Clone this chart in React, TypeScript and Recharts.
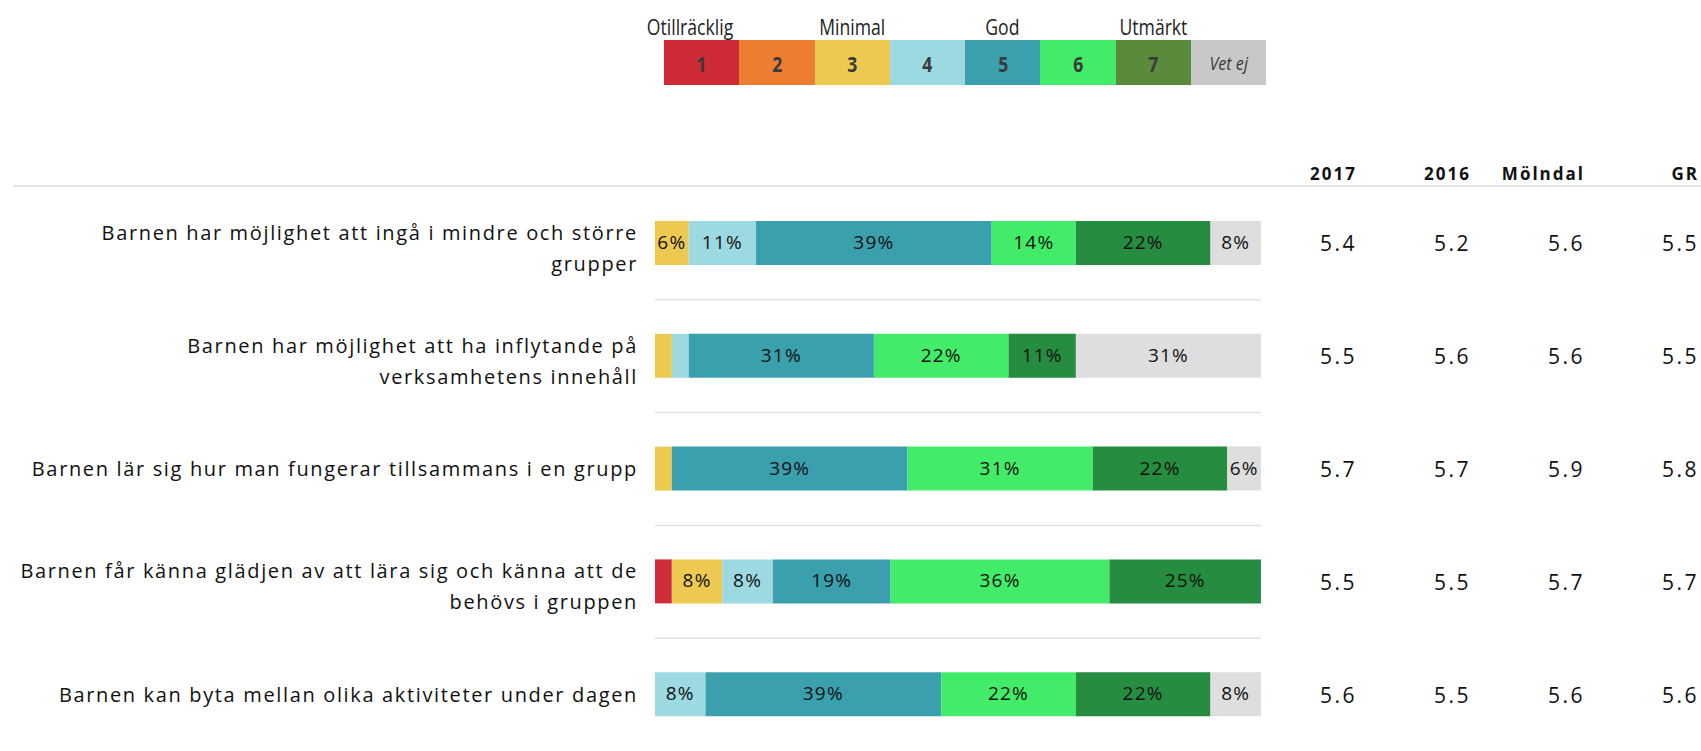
import React from 'react';
import { BarChart, Bar, XAxis, YAxis, CartesianGrid, LabelList } from 'recharts';

const categories = [
  'Barnen har möjlighet att ingå i mindre och större\ngrupper',
  'Barnen har möjlighet att ha inflytande på\nverksamhetens innehåll',
  'Barnen lär sig hur man fungerar tillsammans i en grupp',
  'Barnen får känna glädjen av att lära sig och känna att de\nbehövs i gruppen',
  'Barnen kan byta mellan olika aktiviteter under dagen',
];

// share of answers (%) per grade
const score1 = [0, 0, 0, 2.78, 0];
const score2 = [0, 0, 0, 0, 0];
const score3 = [5.56, 2.78, 2.78, 8.33, 0];
const score4 = [11.11, 2.78, 0, 8.33, 8.33];
const score5 = [38.89, 30.56, 38.89, 19.44, 38.89];
const score6 = [13.89, 22.22, 30.56, 36.11, 22.22];
const score7 = [22.22, 11.11, 22.22, 25.0, 22.22];
const dontKnow = [8.33, 30.56, 5.56, 0, 8.33];

// mean values shown to the right
const mean2017 = [5.4, 5.5, 5.7, 5.5, 5.6];
const mean2016 = [5.2, 5.6, 5.7, 5.5, 5.5];
const meanMolndal = [5.6, 5.6, 5.9, 5.7, 5.6];
const meanGR = [5.5, 5.5, 5.8, 5.7, 5.6];

const gradeKeys = ['1', '2', '3', '4', '5', '6', '7', 'Vet ej'];
const gradeWords = ['Otillräcklig', '', 'Minimal', '', 'God', '', 'Utmärkt', ''];
const barColors = ['#D22B3A', '#ED7D31', '#EEC951', '#9DD9E0', '#3BA0AD', '#43EC68', '#258C40', '#DEDEDE'];
const legendColors = ['#CE2B37', '#ED7D31', '#EEC951', '#9DD9E0', '#3BA0AD', '#43EC68', '#5A8A3B', '#C8C8C8'];

const series = [score1, score2, score3, score4, score5, score6, score7, dontKnow];
const data = categories.map((name, i) => {
  const row: any = { name };
  gradeKeys.forEach((k, j) => { row[k] = series[j][i]; });
  return row;
});

// ids sorted so the axes stack outwards in this order
const columns = [
  { id: 'r1', title: '2017', values: mean2017, width: 96 },
  { id: 'r2', title: '2016', values: mean2016, width: 114 },
  { id: 'r3', title: 'Mölndal', values: meanMolndal, width: 114 },
  { id: 'r4', title: 'GR', values: meanGR, width: 114 },
];

const FONT = "'Open Sans', sans-serif";

const CategoryTick = (props: any) => {
  const { x, y, payload } = props;
  const lines = String(payload.value).split('\n');
  const lh = 31;
  const y0 = y - ((lines.length - 1) * lh) / 2 + (lines.length > 1 ? 5 : 0) + 7;
  return (
    <text x={x} y={y0} textAnchor="end" fill="#111" fontSize={20} fontFamily={FONT} style={{ letterSpacing: 1.65 }}>
      {lines.map((l, i) => (
        <tspan key={i} x={x} dy={i === 0 ? 0 : lh}>{l}</tspan>
      ))}
    </text>
  );
};

const ValueTick = (props: any) => {
  const { x, y, index, values, w } = props;
  return (
    <text x={x + w} y={y + 8} textAnchor="end" fill="#111" fontSize={21} fontFamily={FONT} style={{ letterSpacing: 2.5 }}>
      {values[index].toFixed(1)}
    </text>
  );
};

const HeaderLabel = (props: any) => {
  const { viewBox, text } = props;
  return (
    <text x={viewBox.x + viewBox.width} y={viewBox.y - 7} textAnchor="end" fill="#111" fontSize={17} fontWeight="bold" fontFamily={FONT} style={{ letterSpacing: 2 }}>
      {text}
    </text>
  );
};

const SegmentLabel = (props: any) => {
  const { x, y, width, height, value } = props;
  if (!value || value < 4) return null;
  return (
    <text x={x + width / 2} y={y + height / 2 + 6} textAnchor="middle" fill="#111" fontSize={19} fontFamily={FONT} style={{ letterSpacing: 1.2 }}>
      {Math.round(value)}%
    </text>
  );
};

const ScaleLegend = () => (
  <div style={{ position: 'absolute', left: 664, top: 12, display: 'flex' }}>
    {gradeKeys.map((k, i) => {
      const dk = k === 'Vet ej';
      return (
        <div key={k} style={{ width: 75.3, position: 'relative' }}>
          <div style={{ height: 28, textAlign: 'center', whiteSpace: 'nowrap', fontFamily: FONT, fontSize: 22, color: '#222', marginLeft: i === 0 ? -52 : -40, marginRight: i === 0 ? -28 : -40, lineHeight: '28px' }}>
            <span style={{ display: 'inline-block', transform: 'scaleX(0.8)' }}>{gradeWords[i]}</span>
          </div>
          <div style={{ height: 45, background: legendColors[i], display: 'flex', alignItems: 'center', justifyContent: 'center', fontFamily: FONT, fontWeight: dk ? 'normal' : 'bold', fontStyle: dk ? 'italic' : 'normal', fontSize: dk ? 19 : 22, color: '#3a3a3a' }}>
            <span style={{ display: 'inline-block', transform: dk ? 'scaleX(0.85)' : 'scaleX(0.8)' }}>{k}</span>
          </div>
        </div>
      );
    })}
  </div>
);

export default function App() {
  return (
    <div style={{ position: 'absolute', left: 0, top: 0, width: 1701, height: 751, background: '#fff', overflow: 'hidden' }}>
      <ScaleLegend />
      <div style={{ position: 'absolute', left: 0, top: 0 }}>
        <BarChart width={1701} height={751} data={data} layout="vertical" margin={{ top: 187, right: 2, bottom: 0, left: 0 }}>
          <CartesianGrid
            vertical={false}
            stroke="#e2e2e2"
            strokeWidth={1.5}
            horizontalCoordinatesGenerator={({ offset }: any) => [1, 2, 3, 4].map((i) => offset.top + (i * offset.height) / categories.length)}
          />
          <XAxis type="number" domain={[0, 100]} ticks={[0, 20, 40, 60, 80, 100]} allowDataOverflow mirror axisLine={false} tick={false} tickSize={6} tickLine={{ stroke: '#d0d0d0' }} />
          <YAxis type="category" dataKey="name" width={655} axisLine={false} tickLine={false} tickSize={0} tickMargin={17} tick={<CategoryTick />} interval={0} />
          {columns.map((c) => (
            <YAxis
              key={c.id}
              yAxisId={c.id}
              type="category"
              dataKey="name"
              orientation="right"
              width={c.width}
              axisLine={false}
              tickLine={false}
              tickSize={0}
              tickMargin={0}
              interval={0}
              tick={(p: any) => <ValueTick {...p} values={c.values} w={c.width} />}
              label={<HeaderLabel text={c.title} />}
            />
          ))}
          {gradeKeys.map((k, i) => (
            <Bar key={k} dataKey={k} stackId="s" fill={barColors[i]} barSize={44} isAnimationActive={false}>
              <LabelList dataKey={k} content={<SegmentLabel />} />
            </Bar>
          ))}
        </BarChart>
      </div>
      <div style={{ position: 'absolute', left: 13, top: 185, width: 1688, height: 2, background: '#e2e2e2' }} />
    </div>
  );
}
